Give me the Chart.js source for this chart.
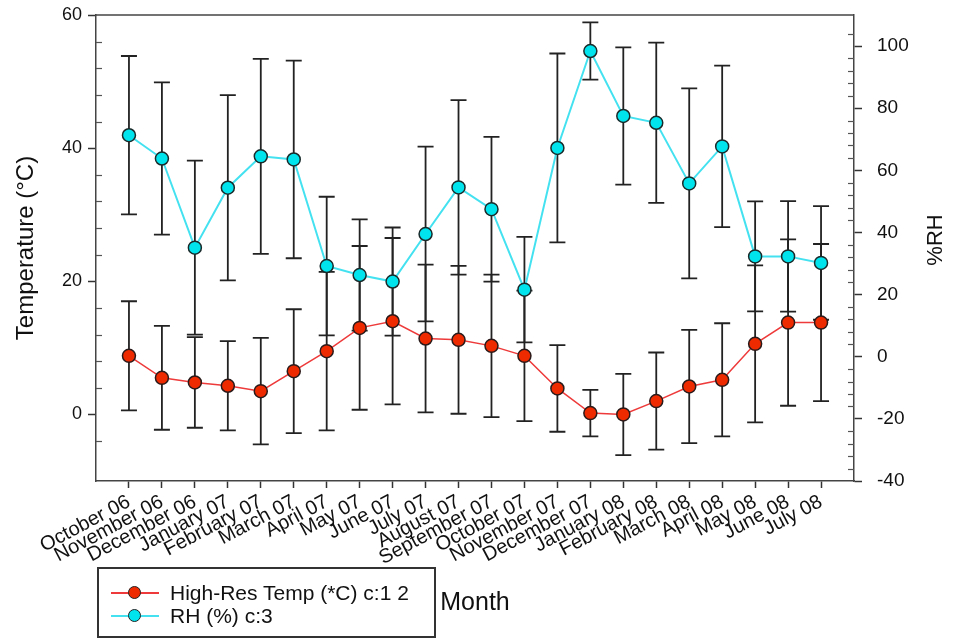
<!DOCTYPE html>
<html>
<head>
<meta charset="utf-8">
<script src="https://cdn.jsdelivr.net/npm/chart.js@4.4.1/dist/chart.umd.min.js"></script>
<style>
  body { margin: 0; background: #fff; }
  #wrap { position: relative; width: 953px; height: 640px; }
  #legend { position: absolute; left: 97px; top: 567px; width: 335px; height: 67px;
            border: 2px solid #333; font: 21px "Liberation Sans", Arial, sans-serif; color: #111; }
  .item { position: absolute; left: 12px; height: 22px; display: flex; align-items: center; white-space: nowrap; }
  .sample { position: relative; width: 48px; height: 22px; margin-right: 11px; flex: none; }
  .sample .ln { position: absolute; left: 0; right: 0; top: 10px; height: 2px; }
  .sample .dot { position: absolute; left: 17px; top: 4px; width: 13px; height: 13px;
                 border-radius: 50%; border: 1.5px solid #222; box-sizing: border-box; }
</style>
</head>
<body>
<div id="wrap">
  <canvas id="myChart"></canvas>
  <div id="legend"></div>
</div>
<script>
const months = ['October 06', 'November 06', 'December 06', 'January 07', 'February 07', 'March 07',
  'April 07', 'May 07', 'June 07', 'July 07', 'August 07', 'September 07', 'October 07',
  'November 07', 'December 07', 'January 08', 'February 08', 'March 08', 'April 08',
  'May 08', 'June 08', 'July 08'];

const tempMean = [8.8, 5.5, 4.8, 4.3, 3.5, 6.5, 9.5, 13.0, 14.0, 11.4, 11.2, 10.3,
  8.8, 3.9, 0.2, 0.0, 2.0, 4.2, 5.2, 10.6, 13.8, 13.8];
const tempErr = [8.2, 7.8, 6.8, 6.7, 8.0, 9.3, 11.9, 12.3, 12.5, 11.1, 11.1, 10.7,
  9.8, 6.5, 3.5, 6.1, 7.3, 8.5, 8.5, 11.8, 12.5, 11.8];

const rhMean = [71.3, 63.8, 35.1, 54.4, 64.5, 63.5, 29.2, 26.3, 24.2, 39.5, 54.5, 47.5,
  21.6, 67.2, 98.4, 77.5, 75.3, 55.8, 67.7, 32.3, 32.3, 30.2];
const rhErr = [25.5, 24.5, 28.0, 29.8, 31.4, 31.8, 22.3, 17.9, 17.4, 28.1, 28.1, 23.3,
  17.0, 30.4, 9.2, 22.1, 25.8, 30.6, 26.0, 17.7, 17.8, 18.3];

const tempTicks = [0, 20, 40, 60];
const rhTicks = [-40, -20, 0, 20, 40, 60, 80, 100];

const FONT = '"Liberation Sans", Arial, sans-serif';

// keep the plot box fixed: no extra padding from overflowing labels
function fixBox(size) {
  return s => {
    if (s.isHorizontal()) s.height = size; else s.width = size;
    s.paddingTop = 0; s.paddingBottom = 0; s.paddingLeft = 0; s.paddingRight = 0;
  };
}

// error bars drawn under the lines and markers
const errorBars = {
  id: 'errorBars',
  beforeDatasetsDraw(chart) {
    const ctx = chart.ctx;
    const xs = chart.scales.x;
    ctx.save();
    ctx.strokeStyle = '#222';
    ctx.lineWidth = 1.8;
    chart.data.datasets.forEach(ds => {
      const ys = chart.scales[ds.yAxisID];
      ds.data.forEach((p, i) => {
        const e = ds.errors[i];
        const px = xs.getPixelForValue(p.x);
        const top = ys.getPixelForValue(p.y + e);
        const bot = ys.getPixelForValue(p.y - e);
        ctx.beginPath();
        ctx.moveTo(px, top); ctx.lineTo(px, bot);
        ctx.moveTo(px - 8, top); ctx.lineTo(px + 8, top);
        ctx.moveTo(px - 8, bot); ctx.lineTo(px + 8, bot);
        ctx.stroke();
      });
    });
    ctx.restore();
  }
};

// top frame line, inner minor ticks, right axis title
const frame = {
  id: 'frame',
  afterDraw(chart) {
    const ctx = chart.ctx;
    const a = chart.chartArea;
    ctx.save();
    ctx.strokeStyle = '#444';
    ctx.lineWidth = 1.5;
    ctx.beginPath();
    ctx.moveTo(a.left, a.top); ctx.lineTo(a.right, a.top);
    ctx.stroke();

    ctx.strokeStyle = '#555';
    ctx.lineWidth = 1.2;
    const minor = (scale, majors, x, dir) => {
      scale.ticks.forEach(t => {
        if (majors.includes(t.value) || t.value <= scale.min || t.value >= scale.max) return;
        const py = Math.round(scale.getPixelForValue(t.value)) + 0.5;
        ctx.beginPath();
        ctx.moveTo(x, py); ctx.lineTo(x + dir * 6, py);
        ctx.stroke();
      });
    };
    minor(chart.scales.y, tempTicks, a.left, 1);
    minor(chart.scales.y1, rhTicks, a.right, -1);

    ctx.fillStyle = '#111';
    ctx.font = '22px ' + FONT;
    ctx.textAlign = 'center';
    ctx.textBaseline = 'middle';
    ctx.translate(936, (a.top + a.bottom) / 2 - 8);
    ctx.rotate(-Math.PI / 2);
    ctx.fillText('%RH', 0, 0);
    ctx.restore();
  }
};

const ctx = document.getElementById('myChart').getContext('2d');
const myChart = new Chart(ctx, {
  type: 'line',
  data: {
    datasets: [{
      label: 'High-Res Temp (*C) c:1 2',
      data: tempMean.map((v, i) => ({ x: i, y: v })),
      errors: tempErr,
      yAxisID: 'y',
      borderColor: '#ee3a3a',
      borderWidth: 1.5,
      backgroundColor: '#ee2a00',
      pointBackgroundColor: '#ee2a00',
      pointBorderColor: '#2a1a1a',
      pointBorderWidth: 1.5,
      pointRadius: 6.5,
      tension: 0
    }, {
      label: 'RH (%) c:3',
      data: rhMean.map((v, i) => ({ x: i, y: v })),
      errors: rhErr,
      yAxisID: 'y1',
      borderColor: '#44e2f0',
      borderWidth: 2,
      backgroundColor: '#00e4ee',
      pointBackgroundColor: '#00e4ee',
      pointBorderColor: '#1a2a2a',
      pointBorderWidth: 1.5,
      pointRadius: 6.5,
      tension: 0
    }]
  },
  options: {
    responsive: true,
    maintainAspectRatio: false,
    animation: false,
    layout: { padding: { top: 15, left: 0, right: 0, bottom: 0 } },
    plugins: {
      legend: { display: false },
      tooltip: { enabled: false }
    },
    scales: {
      x: {
        type: 'linear',
        min: -1,
        max: 22,
        afterFit: fixBox(159),
        border: { color: '#444', width: 1.5 },
        grid: {
          drawOnChartArea: false,
          tickLength: 7,
          tickWidth: 1.5,
          tickColor: c => (c.tick && c.tick.value >= 0 && c.tick.value <= 21) ? '#333' : 'rgba(0,0,0,0)'
        },
        ticks: {
          stepSize: 1,
          autoSkip: false,
          maxRotation: 28,
          minRotation: 28,
          padding: 2,
          color: '#111',
          font: { family: FONT, size: 20 },
          callback: v => months[v] || ''
        },
        title: {
          display: true,
          text: 'Month',
          color: '#111',
          font: { family: FONT, size: 25 },
          padding: { top: 0, bottom: 22 }
        }
      },
      y: {
        position: 'left',
        min: -10,
        max: 60,
        afterFit: fixBox(96),
        border: { color: '#444', width: 1.5 },
        grid: {
          drawOnChartArea: false,
          tickLength: 8,
          tickWidth: 1.5,
          tickColor: c => (c.tick && tempTicks.includes(c.tick.value)) ? '#333' : 'rgba(0,0,0,0)'
        },
        ticks: {
          stepSize: 4,
          autoSkip: false,
          padding: 6,
          color: '#111',
          font: { family: FONT, size: 18 },
          callback: v => tempTicks.includes(v) ? String(v) : ''
        },
        title: {
          display: true,
          text: 'Temperature (°C)',
          color: '#111',
          font: { family: FONT, size: 24 },
          padding: { top: 12, bottom: 0 }
        }
      },
      y1: {
        position: 'right',
        min: -40,
        max: 110,
        afterFit: fixBox(99),
        border: { color: '#444', width: 1.5 },
        grid: {
          drawOnChartArea: false,
          tickLength: 8,
          tickWidth: 1.5,
          tickColor: c => (c.tick && rhTicks.includes(c.tick.value)) ? '#333' : 'rgba(0,0,0,0)'
        },
        ticks: {
          stepSize: 4,
          autoSkip: false,
          padding: 15,
          color: '#111',
          font: { family: FONT, size: 19 },
          callback: v => rhTicks.includes(v) ? String(v) : ''
        }
      }
    }
  },
  plugins: [errorBars, frame]
});

// html legend with a box, built from the datasets
const legend = document.getElementById('legend');
myChart.data.datasets.forEach((ds, i) => {
  const item = document.createElement('div');
  item.className = 'item';
  item.style.top = (13 + i * 23) + 'px';
  item.innerHTML = '<span class="sample"><span class="ln" style="background:' + ds.borderColor +
    '"></span><span class="dot" style="background:' + ds.pointBackgroundColor + '"></span></span>' +
    '<span>' + ds.label + '</span>';
  legend.appendChild(item);
});
</script>
</body>
</html>
